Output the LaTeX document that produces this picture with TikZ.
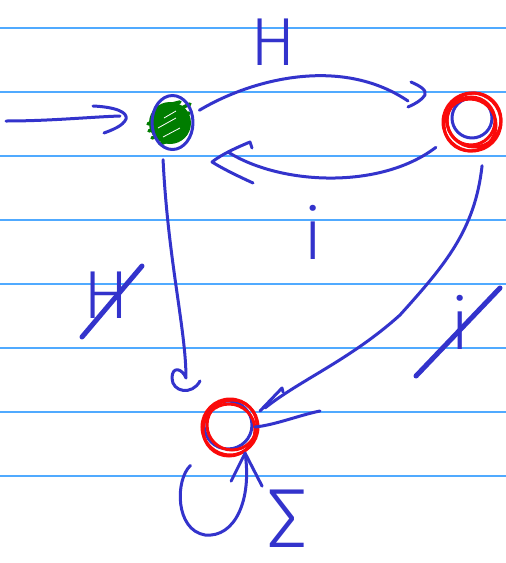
\documentclass[tikz,border=0pt]{standalone}
\usepackage{fontspec}
\newfontfamily\hand{Fira Sans Light}
\usetikzlibrary{arrows.meta}
\definecolor{penblue}{RGB}{51,51,204}
\definecolor{penred}{RGB}{250,10,10}
\definecolor{pengreen}{RGB}{0,125,0}
\definecolor{ruleblue}{RGB}{80,170,255}
\begin{document}
\begin{tikzpicture}[x=1pt,y=-1pt,
  pen/.style={draw=penblue,line width=3pt,line cap=round,line join=round},
  thickpen/.style={draw=penblue,line width=5pt,line cap=round},
  redpen/.style={draw=penred,line width=3pt},
  greenpen/.style={draw=pengreen,line width=3.5pt,line cap=round},
  rulestyle/.style={draw=ruleblue,line width=1.3pt},
  statenode/.style={circle,minimum size=60pt,inner sep=0pt},
  lbl/.style={text=penblue,inner sep=0pt,font=\hand\fontsize{68}{68}\selectfont},
  lbli/.style={lbl,font=\hand\fontsize{72}{72}\selectfont}]
\useasboundingbox (0,0) rectangle (506,563);
\fill[white] (0,0) rectangle (506,563);
\foreach \yy in {28,92,156,220,284,348,412,476}
  \draw[rulestyle] (0,\yy) -- (506,\yy);

% states
\node[statenode] (q0) at (172,123) {};
\node[statenode] (q1) at (472,122) {};
\node[statenode] (q2) at (230,427) {};

% q0: green scribble + blue outline
\fill[pengreen] (170,123) circle (21pt);
\draw[greenpen] (148,124) -- (190,104);
\draw[greenpen] (149,131) -- (189,113);
\draw[greenpen] (152,138) -- (188,124);
\draw[greenpen] (160,144) -- (186,134);
\draw[greenpen] (156,108) -- (180,102);
\draw[white,line width=0.8pt] (158,128) -- (176,118);
\draw[white,line width=0.8pt] (163,137) -- (180,128);
\draw[white,line width=0.8pt] (164,118) -- (176,111);
\draw[pen] (172.5,122.5) ellipse [x radius=20.5pt, y radius=27pt];

% q1: blue circle + red rings
\draw[pen] (472,118) circle (20pt);
\draw[redpen] (472,122) circle (29pt);
\draw[redpen] (470,125) circle (26pt);
\draw[redpen] (474,120) circle (27pt);
\draw[redpen] (471,121) circle (24pt);

% q2: blue circle + red rings
\draw[pen] (228,425) circle (24pt);
\draw[redpen] (230,427) circle (28pt);
\draw[redpen] (232,425) circle (25pt);
\draw[redpen] (229,430) circle (26pt);

% initial arrow
\coordinate (s0) at (6,121);
\coordinate (tipS) at (120,116);
\draw[pen] (s0) .. controls (50,121) and (90,117) .. (tipS);
\draw[pen] (93,106) .. controls (115,107) and (128,112) .. (126,119)
  .. controls (123,126) and (112,130) .. (104,133);

% q0 --H--> q1
\coordinate (tipH) at (408,101);
\draw[pen] (q0.25) .. controls (250,80) and (340,55) .. (tipH);
\draw[pen] (411,82) .. controls (420,86) and (427,90) .. (425,95)
  .. controls (422,100) and (415,104) .. (408,107);
\node[lbl] (labH) at (273,42) {H};

% q1 --i--> q0
\coordinate (tipI) at (228,152);
\draw[pen,shorten <=14pt] (q1.214) .. controls (380,190) and (280,185) .. (tipI);
\draw[pen] (252,148) -- (250,142) .. controls (238,147) and (222,154) .. (212,162)
  .. controls (225,170) and (240,177) .. (253,183);
\node[lbli] (labI) at (313,232) {i};

% q0 --not H--> q2
\coordinate (tipC) at (200,381);
\draw[pen,shorten <=8pt] (q0.252) .. controls (168,260) and (186,330) .. (186,378)
  .. controls (182,368) and (172,366) .. (172,378)
  .. controls (172,392) and (192,396) .. (tipC);
\node[lbl] (labNH) at (106,295) {H};
\draw[thickpen] (82,337) -- (142,266);

% q1 --not i--> q2
\coordinate (tipX) at (265,408);
\draw[pen,shorten <=16pt] (q1.293) .. controls (475,230) and (445,265) .. (400,315)
  .. controls (350,360) and (300,380) .. (tipX);
\draw[pen] (283,392) -- (282,388) -- (260,411);
\draw[pen] (255,427) .. controls (275,425) and (300,415) .. (320,411);
\node[lbli] (labNI) at (460,322) {i};
\draw[thickpen] (416,376) -- (500,288);

% self loop on q2
\draw[pen,shorten <=25pt] (q2.225) .. controls (175,480) and (175,530) .. (205,535)
  .. controls (235,538) and (252,500) .. (q2.300);
\draw[pen] ([shift={(-14,28)}]q2.300) -- (q2.300) -- ([shift={(17,33)}]q2.300);
\node[lbl,font=\hand\fontsize{84}{84}\selectfont] (labS) at (287,519) {Σ};
\end{tikzpicture}
\end{document}
